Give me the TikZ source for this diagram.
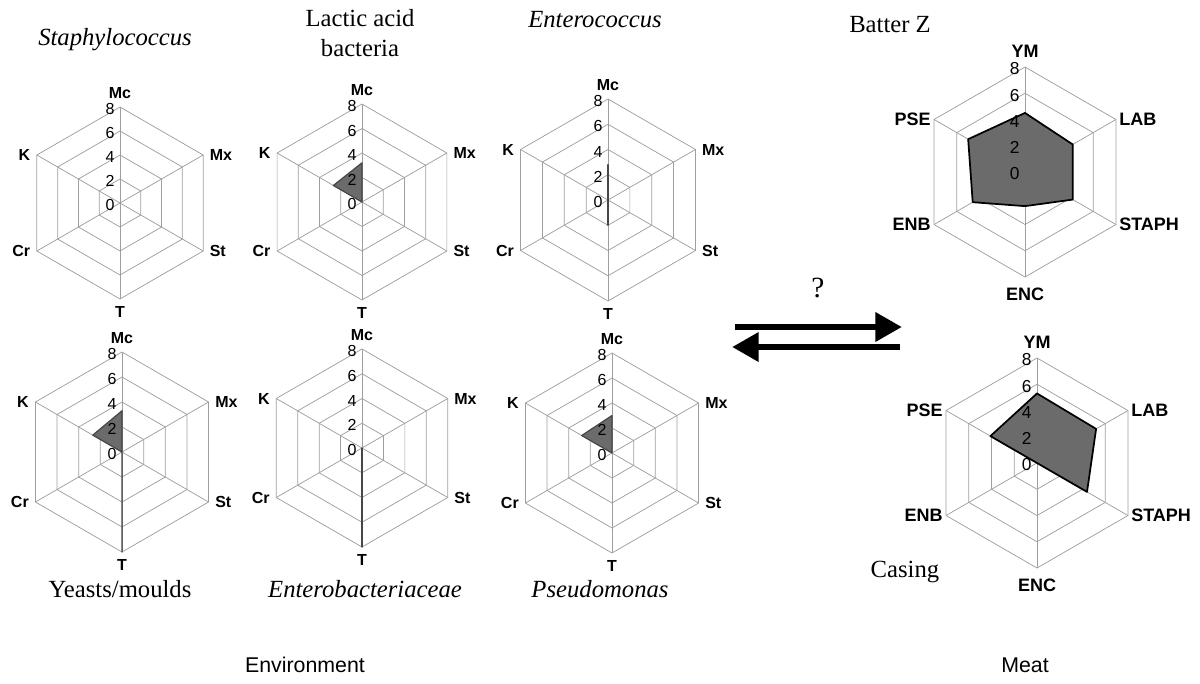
\documentclass[tikz,border=0pt]{standalone}
\usepackage{fontspec}
\setmainfont{Liberation Serif}
\setsansfont{Liberation Sans}
\usetikzlibrary{arrows.meta}

\tikzset{
  webline/.style={draw=black!38, line width=0.55pt},
  polyfill/.style={fill=black!58, draw=black!72, line width=0.9pt, line join=round},
  ticklbl/.style={anchor=east, inner sep=0pt, xshift=-4pt, yshift=-1.5pt, font=\sffamily\fontsize{12}{14}\selectfont},
  axislbl/.style={inner sep=0pt, outer sep=5pt, font=\sffamily\bfseries\fontsize{12}{14}\selectfont},
  ttl/.style={inner sep=0pt, font=\fontsize{18.5}{22}\selectfont},
  ittl/.style={ttl, font=\fontsize{18.5}{22}\selectfont\itshape},
  grp/.style={inner sep=0pt, font=\sffamily\fontsize{16}{18}\selectfont},
  bigarrow/.style={line width=5.2pt, -{Triangle[length=20pt,width=21pt]}}
}

\newcommand{\envaxes}{Mc/south/2,Mx/west/0,St/west/0,T/north/1,Cr/east/0,K/east/0}
\newcommand{\meataxes}{YM/south/6,LAB/west/0,STAPH/west/0,ENC/north/8,ENB/east/0,PSE/east/0}

% #1 name, #2 centre, #3 radius, #4 axes, #5 values
\newcommand{\radar}[5]{%
  \begin{scope}[shift={#2},yscale=-1]
    \foreach \k in {1,...,4}
      \draw[webline] (90:\k*#3/4) -- (30:\k*#3/4) -- (-30:\k*#3/4) -- (-90:\k*#3/4) -- (-150:\k*#3/4) -- (150:\k*#3/4) -- cycle;
    \foreach \a in {90,30,-30,-90,-150,150}
      \draw[webline] (0,0) -- (\a:#3);
    \foreach \v [count=\i from 0] in {#5}
      \coordinate (#1p\i) at ({90-60*\i}:\v*#3/8);
    \filldraw[polyfill] (#1p0) -- (#1p1) -- (#1p2) -- (#1p3) -- (#1p4) -- (#1p5) -- cycle;
    \foreach \t [count=\k from 0] in {0,2,4,6,8}
      \node[ticklbl] (#1t\t) at (0,\k*#3/4) {\t};
    \foreach \lab/\anc/\off [count=\i from 0] in #4
      \node[axislbl, anchor=\anc] (#1\lab) at ({90-60*\i}:#3+\off) {\lab};
  \end{scope}}

\begin{document}
\begin{tikzpicture}[x=0.75pt,y=0.75pt,yscale=-1,xscale=1]
  \useasboundingbox (0,0) rectangle (1200,683);

  \radar{staph}{(120,203)}{96}{\envaxes}{0,0,0,0,0,0}
  \radar{lab}{(362,202)}{98}{\envaxes}{3.2,0,0,0,0,2.7}
  \radar{enc}{(608,200)}{101}{\envaxes}{2.8,0,0,2,0,0}
  \radar{ym}{(122,452)}{100}{\envaxes}{3.3,0,0,8,0,2.7}
  \radar{enb}{(362,448)}{99}{\envaxes}{0,0,0,8,0,0}
  \radar{pse}{(612,453)}{100}{\envaxes}{3.0,0,0,0,0,2.8}

  \begin{scope}[polyfill/.append style={draw=black, line width=1.3pt},
      ticklbl/.append style={font=\sffamily\fontsize{13}{15}\selectfont},
      axislbl/.append style={outer sep=2.5pt, font=\sffamily\bfseries\fontsize{13.5}{15}\selectfont}]
    \radar{batter}{(1025,172)}{105}{\meataxes}{4.5,4.2,4.2,2.6,4.6,5.0}
    \radar{casing}{(1037,463)}{105}{\meataxes}{5.3,5.2,4.4,0,0,4.1}
  \end{scope}

  \node[ittl] (tstaph) at (115,40) {Staphylococcus};
  \node[ttl, align=center] (tlab) at (360,33) {Lactic acid\\bacteria};
  \node[ittl] (tenc) at (595,20) {Enterococcus};
  \node[ttl] (tbatter) at (890,25) {Batter Z};
  \node[ttl] (tym) at (120,589) {Yeasts/moulds};
  \node[ittl] (tenb) at (365,589) {Enterobacteriaceae};
  \node[ittl] (tpse) at (600,589) {Pseudomonas};
  \node[ttl] (tcasing) at (905,572) {Casing};
  \node[grp] (genv) at (305,665) {Environment};
  \node[grp] (gmeat) at (1025,665) {Meat};
  \node[ttl, font=\fontsize{22}{24}\selectfont] (qm) at (818,288) {?};

  \coordinate (fwdA) at (735,327);
  \coordinate (fwdB) at (902,327);
  \coordinate (bckA) at (900,347);
  \coordinate (bckB) at (732,347);
  \draw[bigarrow] (fwdA) -- (fwdB);
  \draw[bigarrow] (bckA) -- (bckB);
\end{tikzpicture}
\end{document}
